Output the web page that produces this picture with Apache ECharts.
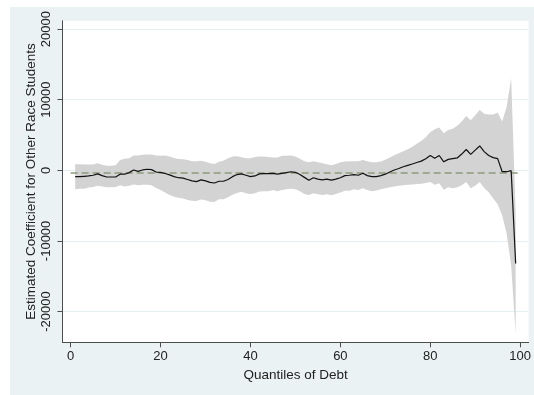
<!DOCTYPE html>
<html>
<head>
<meta charset="utf-8">
<script src="https://cdn.jsdelivr.net/npm/echarts@6/dist/echarts.min.js"></script>
<style>
  html, body { margin: 0; padding: 0; background: #fff; }
  #bg { position: absolute; left: 10px; top: 7px; width: 524px; height: 388px; background: #eaf2f3; }
  #chart { position: absolute; left: 0; top: 0; width: 534px; height: 395px; }
</style>
</head>
<body>
<div id="bg"></div>
<div id="chart"></div>
<script>
// quantiles 1..99
const quantiles = Array.from({ length: 99 }, (_, i) => i + 1)

const estimate = [
  -900, -900, -850, -800, -700, -500, -750, -950, -950, -950,
  -550, -550, -330, 50, -150, 50, 150, 100, -250, -300,
  -450, -650, -900, -1050, -1100, -1300, -1500, -1600, -1350, -1500,
  -1700, -1800, -1550, -1550, -1300, -900, -600, -500, -700, -900,
  -800, -500, -470, -470, -430, -550, -430, -330, -200, -280,
  -600, -1000, -1400, -1050, -1250, -1350, -1250, -1400, -1250, -1050,
  -750, -700, -600, -700, -420, -750, -900, -900, -750, -550,
  -250, 50, 250, 500, 700, 900, 1100, 1300, 1650, 2100,
  1700, 2100, 1200, 1550, 1650, 1750, 2300, 2950, 2250, 2850,
  3450, 2650, 2100, 1800, 1650, -200, -200, -50, -13200
]

const upper = [
  850, 850, 830, 830, 830, 1000, 800, 650, 650, 700,
  1450, 1650, 1700, 2100, 2100, 2200, 2250, 2250, 2100, 2050,
  2100, 1950, 1750, 1600, 1550, 1450, 1300, 1300, 1350, 1200,
  1000, 900, 1200, 1350, 1700, 1950, 2000, 1850, 1700, 1700,
  1900, 1950, 1950, 1900, 1800, 1800, 2050, 2050, 2100, 1950,
  1650, 1300, 1150, 1300, 1150, 1000, 850, 700, 900, 1150,
  1250, 1300, 1300, 1300, 1450, 1300, 1150, 1150, 1250, 1500,
  1800, 2150, 2400, 2700, 3000, 3350, 3750, 4150, 4700, 5400,
  5800, 6050, 5250, 5700, 5900, 6300, 6900, 7700, 7100, 7800,
  8550, 8000, 7900, 7900, 8200, 6900, 9000, 13050, -6000
]

const lower = [
  -2700, -2600, -2600, -2450, -2350, -2200, -2300, -2400, -2400, -2350,
  -2100, -2300, -2200, -2000, -2100, -2050, -2050, -2100, -2500, -2800,
  -3150, -3500, -3750, -3900, -4000, -4200, -4300, -4350, -4150, -4250,
  -4450, -4500, -4100, -4100, -3800, -3450, -3200, -3050, -3250, -3350,
  -3250, -3000, -2950, -2950, -2800, -2950, -2800, -2700, -2600, -2700,
  -2950, -3350, -3500, -3250, -3400, -3500, -3400, -3550, -3350, -3150,
  -2900, -2900, -2700, -2800, -2550, -2800, -2950, -2850, -2700, -2550,
  -2400, -2300, -2200, -2100, -2050, -2000, -1950, -1900, -1800, -1650,
  -2050, -1850, -2750, -2400, -2550, -2400, -2100, -1650, -2550, -2200,
  -1650, -2500, -3100, -4000, -4800, -6400, -9000, -13500, -23100
]

const refLine = [[0, -380], [100, -380]]
const xTicks = [0, 20, 40, 60, 80, 100]
const yTicks = [-20000, -10000, 0, 10000, 20000]

const chart = echarts.init(document.getElementById('chart'))

const textColor = '#222'
const axisColor = '#4d4d4d'

chart.setOption({
  animation: false,
  backgroundColor: 'transparent',
  textStyle: { fontFamily: 'Liberation Sans, Arial, sans-serif' },
  grid: {
    left: 62.5,
    right: 3.3,
    top: 20.7,
    bottom: 52.7,
    show: true,
    backgroundColor: '#fff',
    borderWidth: 0
  },
  xAxis: {
    type: 'value',
    min: -1.82,
    max: 101.9,
    name: 'Quantiles of Debt',
    nameLocation: 'middle',
    nameGap: 21,
    nameTextStyle: { color: textColor, fontSize: 13.5 },
    axisLine: { onZero: false, lineStyle: { color: axisColor, width: 1 } },
    axisTick: { show: true, length: 5, customValues: xTicks, lineStyle: { color: axisColor } },
    axisLabel: { customValues: xTicks, color: textColor, fontSize: 13, margin: 8 },
    splitLine: { show: false }
  },
  yAxis: {
    type: 'value',
    min: -24360,
    max: 21190,
    name: 'Estimated Coefficient for Other Race Students',
    nameLocation: 'middle',
    nameGap: 24,
    nameMoveOverlap: false,
    nameRotate: 90,
    nameTextStyle: { color: textColor, fontSize: 13.5 },
    axisLine: { show: true, onZero: false, lineStyle: { color: axisColor, width: 1 } },
    axisTick: { show: true, length: 5, customValues: yTicks, lineStyle: { color: axisColor } },
    axisLabel: {
      customValues: yTicks,
      rotate: 90,
      color: textColor,
      fontSize: 13,
      margin: 10,
      formatter: v => String(v)
    },
    splitLine: { show: true, lineStyle: { color: '#e6eff1', width: 1 } }
  },
  series: [
    {
      name: 'ci',
      type: 'custom',
      silent: true,
      data: [0],
      renderItem: function (params, api) {
        const pts = []
        for (let i = 0; i < quantiles.length; i++) pts.push(api.coord([quantiles[i], upper[i]]))
        for (let i = quantiles.length - 1; i >= 0; i--) pts.push(api.coord([quantiles[i], lower[i]]))
        return {
          type: 'polygon',
          shape: { points: pts },
          style: { fill: '#d3d3d3', stroke: null }
        }
      },
      z: 1
    },
    {
      name: 'ref',
      type: 'line',
      data: refLine,
      symbol: 'none',
      silent: true,
      lineStyle: { color: '#8d9c7e', width: 1.3, type: [7, 4] },
      z: 2
    },
    {
      name: 'estimate',
      type: 'line',
      data: quantiles.map((q, i) => [q, estimate[i]]),
      symbol: 'none',
      silent: true,
      lineStyle: { color: '#111', width: 1.2 },
      z: 3
    }
  ]
})
</script>
</body>
</html>
